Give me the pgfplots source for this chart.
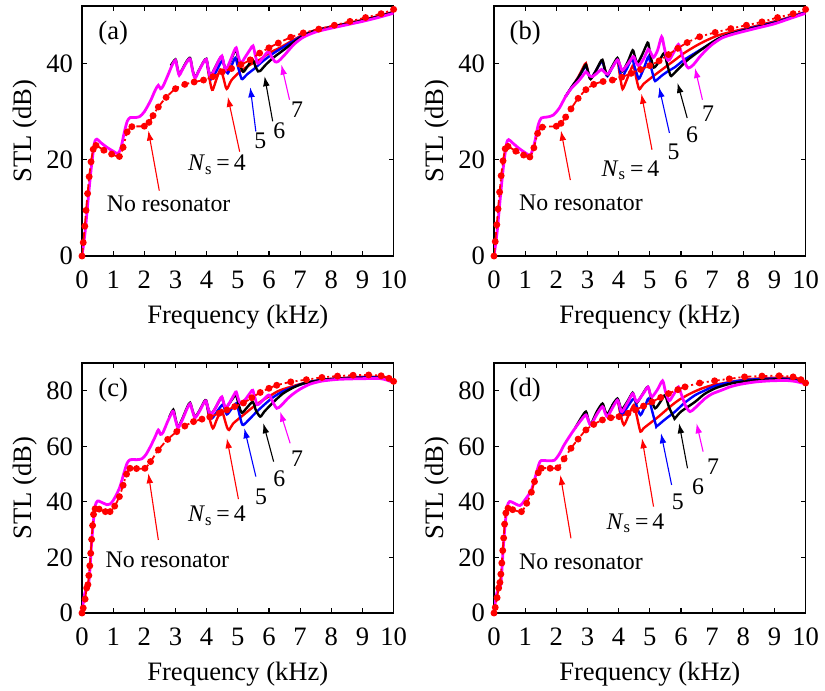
\documentclass[border=0pt]{standalone}
\usepackage{fontspec}
\setmainfont{Liberation Serif}
\newfontfamily\tnr{Liberation Serif}
\usepackage{pgfplots}
\pgfplotsset{compat=1.18}
\usetikzlibrary{arrows.meta}
\definecolor{mag}{RGB}{255,0,255}
\definecolor{rd}{RGB}{255,0,0}
\definecolor{bl}{RGB}{0,0,255}
\tikzset{
  ann/.style={font=\tnr\fontsize{11.9}{14}\selectfont},
  arr/.style={-{Latex[length=5pt,width=3.4pt]}, line width=0.55pt},
}
\pgfplotsset{
  panel/.style={
    scale only axis, width=155.8pt, height=125pt, anchor=south west,
    xmin=0, xmax=10, ymin=0,
    xtick={0,1,...,10},
    tick align=inside,
    major tick length=2.5pt,
    axis line style={line width=0.8pt, black},
    every tick/.style={black, line width=0.6pt},
    tick label style={font=\tnr\fontsize{13.3}{15}\selectfont},
    xticklabel style={yshift=-4pt},
    yticklabel style={xshift=-1pt},
    label style={font=\tnr\fontsize{13.3}{15}\selectfont},
    xlabel={Frequency (kHz)},
    ylabel={STL (dB)},
    xlabel style={at={(axis description cs:0.5,-0.244)}, anchor=center},
    ylabel style={at={(axis description cs:-0.183,0.5)}, anchor=center},
    /pgf/number format/assume math mode=true,
  },
  nr/.style={rd, line width=0.9pt, smooth, tension=0.4, dash pattern=on 4pt off 1.5pt on 1pt off 1.5pt, mark=*, mark size=1.25pt, mark options={solid}},
  n4/.style={rd, line width=1.2pt, no marks, smooth, tension=0.45},
  n5/.style={bl, line width=1.2pt, no marks, smooth, tension=0.45},
  n6/.style={black, line width=1.2pt, no marks, smooth, tension=0.45},
  n7/.style={mag, line width=1.4pt, no marks, smooth, tension=0.45},
}
\begin{document}
\begin{tikzpicture}
\useasboundingbox (0,0) rectangle (412.5pt,-345.5pt);
% ---------------- (a)
\begin{axis}[panel, at={(41pt,-128pt)}, ymax=52, ytick={0,20,40}]
\addplot[n4] coordinates {(3.9,40.3)(3.99,40.8)(4.06,38.0)(4.15,35.0)(4.2,34.6)(4.3,36.5)(4.44,38.8)(4.52,37.5)(4.62,35.0)(4.67,34.9)(4.8,36.6)(5.08,38.4)(5.4,39.8)(5.72,40.9)(6.0,42.2)(6.37,43.4)(6.8,45.0)(7.1,46.0)(7.5,47.0)(8,47.7)(8.5,48.4)(9,49.1)(9.5,49.9)(10,50.8)};
\addplot[n5] coordinates {(3.9,40.3)(3.99,40.8)(4.06,38.5)(4.15,36.8)(4.3,38.3)(4.45,40.2)(4.52,40.5)(4.6,38.8)(4.68,38.0)(4.8,39.6)(4.92,41.2)(5.0,39.5)(5.1,37.2)(5.15,36.8)(5.3,37.8)(5.5,38.8)(5.8,40.5)(6.15,42.2)(6.5,43.6)(6.8,44.8)(7.1,45.9)(7.5,46.9)(8,47.6)(8.5,48.3)(9,49.0)(9.5,49.8)(10,50.7)};
\addplot[n6] coordinates {(2.85,39.6)(3.0,40.9)(3.06,39.2)(3.12,37.8)(3.2,38.6)(3.35,40.4)(3.47,41.2)(3.55,38.7)(3.63,37.2)(3.75,38.6)(3.9,40.4)(3.99,41.0)(4.05,39.1)(4.12,37.5)(4.25,38.9)(4.4,40.8)(4.49,41.5)(4.55,40.0)(4.62,38.7)(4.75,40.3)(4.88,42.3)(4.95,42.8)(5.05,40.0)(5.15,38.5)(5.2,38.4)(5.35,39.8)(5.48,40.8)(5.56,39.5)(5.65,38.4)(5.72,38.5)(5.9,39.8)(6.15,41.3)(6.5,43.0)(6.8,44.5)(7.1,45.8)(7.5,46.9)(8,47.6)(8.5,48.3)(9,49.0)(9.5,49.8)(10,50.7)};
\addplot[n7] coordinates {(0,0)(0.1,5)(0.2,12)(0.3,18.5)(0.4,23.5)(0.48,24.3)(0.6,23.6)(0.8,22.6)(1.0,21.8)(1.15,21.3)(1.25,22.5)(1.35,25.5)(1.45,28.0)(1.55,28.8)(1.7,28.8)(1.85,29.0)(2.0,30.0)(2.2,32.3)(2.35,34.5)(2.45,35.5)(2.52,34.8)(2.6,35.3)(2.75,37.5)(2.9,39.8)(3.0,40.7)(3.06,39.0)(3.12,37.6)(3.2,38.5)(3.35,40.2)(3.47,41.0)(3.55,38.5)(3.63,37.0)(3.75,38.5)(3.9,40.3)(3.99,40.9)(4.05,39.0)(4.12,37.3)(4.25,38.8)(4.4,40.8)(4.49,41.6)(4.55,40.0)(4.62,38.7)(4.75,40.5)(4.88,42.6)(4.95,43.3)(5.02,41.5)(5.1,40.1)(5.25,41.5)(5.4,43.0)(5.49,43.7)(5.56,41.8)(5.64,40.1)(5.78,41.0)(5.92,42.2)(6.0,42.5)(6.08,41.5)(6.2,40.4)(6.3,40.5)(6.5,41.8)(6.8,44.0)(7.1,45.5)(7.5,46.6)(8,47.4)(8.5,48.1)(9,48.8)(9.5,49.6)(10,50.5)};
\addplot[nr] coordinates {(0,0)(0.04,2.8)(0.09,6.2)(0.13,9.5)(0.18,13)(0.23,16.5)(0.29,19.6)(0.36,22.2)(0.45,23.0)(0.7,22.0)(0.95,21.2)(1.2,20.7)(1.32,22.6)(1.45,25.8)(1.6,26.9)(2.0,27.0)(2.15,27.8)(2.28,29.2)(2.45,31.0)(2.7,33.0)(3.0,34.8)(3.3,35.7)(3.6,36.2)(3.9,36.6)(4.2,37.3)(4.5,38.3)(4.8,39.0)(5.1,39.8)(5.4,40.8)(5.7,42.2)(6.0,43.3)(6.3,44.3)(6.7,45.5)(7.1,46.4)(7.6,47.2)(8.1,48.0)(8.6,48.8)(9.1,49.6)(9.6,50.4)(10,51.3)};
\node[font=\tnr\fontsize{13.3}{15}\selectfont] at (rel axis cs:0.1,0.892) {(a)};
\node[ann] at (axis cs:2.78,10.8) {No resonator};
\draw[arr, rd] (axis cs:2.48,13.6) -- (axis cs:2.13,26.1);
\node[ann] at (axis cs:4.33,19.0) {\textit{N}\textsubscript{s}\,=\,4};
\draw[arr, rd] (axis cs:5.06,21.7) -- (axis cs:4.68,33.1);
\node[ann] at (axis cs:5.72,24.0) {5};
\draw[arr, bl] (axis cs:5.58,25.9) -- (axis cs:5.40,35.1);
\node[ann] at (axis cs:6.33,26.1) {6};
\draw[arr, black] (axis cs:6.12,28.0) -- (axis cs:5.86,37.4);
\node[ann] at (axis cs:6.9,30.4) {7};
\draw[arr, mag] (axis cs:6.66,32.5) -- (axis cs:6.4,39.8);
\end{axis}
% ---------------- (b)
\begin{axis}[panel, at={(247pt,-128pt)}, ymax=52, ytick={0,20,40}]
\addplot[n4] coordinates {(2.3,33.2)(2.5,35.2)(2.7,37.2)(2.87,39.3)(2.95,40.1)(3.03,38.0)(3.1,36.8)(3.25,38.3)(3.4,40.0)(3.48,40.6)(3.56,38.8)(3.64,37.6)(3.8,39.3)(3.96,40.6)(4.04,37.5)(4.11,35.0)(4.15,34.9)(4.3,37.3)(4.45,39.6)(4.5,39.0)(4.6,36.0)(4.67,34.7)(4.8,35.8)(5.17,37.7)(5.5,39.3)(5.81,40.8)(6.1,42.2)(6.45,43.6)(6.8,44.8)(7.2,45.9)(7.6,46.6)(8,47.2)(8.5,48.0)(9,48.8)(9.5,49.7)(10,50.8)};
\addplot[n5] coordinates {(2.3,33.2)(2.5,35.2)(2.7,37.0)(2.87,38.8)(2.95,39.5)(3.03,38.0)(3.1,36.9)(3.25,38.3)(3.4,40.0)(3.48,40.5)(3.56,38.6)(3.64,37.4)(3.8,39.3)(3.96,40.9)(4.04,38.5)(4.11,37.2)(4.25,38.8)(4.43,41.0)(4.5,39.6)(4.62,37.2)(4.67,37.0)(4.82,39.2)(4.96,41.5)(5.05,39.0)(5.15,36.6)(5.2,36.5)(5.4,37.6)(5.6,38.5)(5.81,39.3)(6.1,40.8)(6.45,42.2)(6.8,43.6)(7.2,45.2)(7.5,46.0)(8,47.0)(8.5,47.8)(9,48.6)(9.5,49.6)(10,50.7)};
\addplot[n6] coordinates {(2.3,33.2)(2.5,35.2)(2.7,37.0)(2.87,39.0)(2.95,39.8)(3.03,38.0)(3.1,36.8)(3.25,38.3)(3.4,40.2)(3.48,40.8)(3.56,38.8)(3.64,37.6)(3.8,39.5)(3.96,41.2)(4.04,39.6)(4.12,38.4)(4.3,40.5)(4.45,42.8)(4.52,41.5)(4.6,40.1)(4.75,41.8)(4.9,44.0)(4.95,44.3)(5.03,41.5)(5.13,39.2)(5.3,40.5)(5.46,42.2)(5.56,39.8)(5.66,37.6)(5.72,37.6)(5.9,38.8)(6.2,40.7)(6.5,42.2)(6.87,43.9)(7.2,45.2)(7.5,46.0)(8,46.9)(8.5,47.7)(9,48.5)(9.5,49.5)(10,50.6)};
\addplot[n7] coordinates {(0,0)(0.1,5)(0.2,12)(0.3,18.5)(0.4,23.3)(0.47,24.2)(0.6,23.5)(0.8,22.4)(1.0,21.5)(1.17,21.0)(1.3,23.5)(1.42,27.3)(1.52,28.7)(1.7,28.9)(1.9,29.3)(2.1,30.8)(2.3,33.2)(2.5,35.0)(2.7,36.3)(2.85,37.5)(2.95,38.3)(3.05,37.6)(3.15,37.3)(3.3,38.0)(3.45,38.8)(3.55,38.2)(3.65,37.8)(3.8,39.2)(3.96,40.8)(4.05,39.6)(4.12,38.6)(4.3,40.0)(4.47,41.5)(4.55,40.4)(4.64,39.6)(4.8,41.0)(4.95,43.0)(5.03,42.3)(5.12,41.3)(5.25,42.8)(5.38,45.6)(5.46,43.5)(5.55,41.0)(5.63,40.8)(5.78,42.5)(5.92,44.0)(6.0,42.5)(6.12,40.3)(6.24,39.1)(6.4,39.8)(6.6,41.4)(6.8,42.8)(7.0,44.0)(7.3,45.3)(7.6,46.0)(8,46.7)(8.5,47.5)(9,48.3)(9.5,49.4)(10,50.5)};
\addplot[nr] coordinates {(0,0)(0.04,3)(0.09,6.5)(0.13,9.8)(0.18,13.3)(0.23,16.7)(0.29,19.8)(0.36,22.3)(0.45,22.8)(0.7,21.8)(0.95,21.0)(1.15,20.6)(1.28,22.5)(1.4,25.5)(1.55,26.8)(2.0,27.0)(2.15,27.6)(2.3,28.9)(2.47,30.6)(2.7,32.8)(2.95,34.6)(3.2,35.7)(3.5,36.3)(3.8,36.6)(4.1,37.2)(4.4,38.0)(4.7,38.8)(5.0,39.6)(5.3,40.6)(5.6,41.9)(5.9,43.2)(6.2,44.4)(6.6,45.6)(7.1,46.5)(7.6,47.3)(8.1,48.0)(8.6,48.7)(9.1,49.6)(9.6,50.4)(10,51.3)};
\node[font=\tnr\fontsize{13.3}{15}\selectfont] at (rel axis cs:0.1,0.892) {(b)};
\node[ann] at (axis cs:2.79,11.0) {No resonator};
\draw[arr, rd] (axis cs:2.45,15.8) -- (axis cs:2.15,26.1);
\node[ann] at (axis cs:4.38,17.8) {\textit{N}\textsubscript{s}\,=\,4};
\draw[arr, rd] (axis cs:5.07,22.1) -- (axis cs:4.73,33.75);
\node[ann] at (axis cs:5.76,21.7) {5};
\draw[arr, bl] (axis cs:5.63,25.6) -- (axis cs:5.30,35.1);
\node[ann] at (axis cs:6.36,25.2) {6};
\draw[arr, black] (axis cs:6.2,28.7) -- (axis cs:5.89,36.0);
\node[ann] at (axis cs:6.87,29.7) {7};
\draw[arr, mag] (axis cs:6.69,32.5) -- (axis cs:6.45,39.1);
\end{axis}
% ---------------- (c)
\begin{axis}[panel, at={(41pt,-306.5pt)}, ymax=90, ytick={0,20,40,60,80}]
\addplot[n4] coordinates {(3.92,75.8)(3.98,76.2)(4.08,70.5)(4.2,66.5)(4.32,69.5)(4.47,73.1)(4.52,72.0)(4.65,67.0)(4.72,65.9)(4.85,68.2)(5.18,71.3)(5.45,73.8)(5.72,76.0)(6.05,78.3)(6.36,80.2)(7.0,82.4)(7.5,83.6)(8,84.3)(8.5,84.7)(9,85.0)(9.5,85.0)(9.8,84.4)(10,83.4)};
\addplot[n5] coordinates {(3.92,75.8)(3.98,76.3)(4.06,72.5)(4.17,70.1)(4.35,72.8)(4.5,74.9)(4.56,74.0)(4.65,71.5)(4.8,73.5)(4.95,75.5)(5.02,73.0)(5.12,68.5)(5.18,67.7)(5.35,69.5)(5.61,72.5)(5.9,75.5)(6.15,77.8)(6.45,79.8)(6.79,81.4)(7.1,82.6)(7.5,83.6)(8,84.2)(8.5,84.6)(9,84.8)(9.5,84.8)(9.8,84.2)(10,83.3)};
\addplot[n6] coordinates {(2.8,70.5)(2.93,73.2)(3.0,70.0)(3.08,67.0)(3.2,69.4)(3.38,74.2)(3.47,75.7)(3.55,72.8)(3.63,70.6)(3.78,73.1)(3.92,76.1)(3.98,76.6)(4.05,73.7)(4.13,71.6)(4.27,73.6)(4.42,76.7)(4.49,77.6)(4.55,75.4)(4.61,73.8)(4.75,75.8)(4.9,78.2)(4.95,78.4)(5.03,75.0)(5.13,72.1)(5.3,74.0)(5.48,76.0)(5.58,73.0)(5.72,70.7)(5.85,72.5)(6.15,76.0)(6.45,79.0)(6.79,81.2)(7.1,82.6)(7.43,83.4)(7.8,84.0)(8.2,84.4)(8.7,84.6)(9.2,84.7)(9.6,84.6)(9.8,84.0)(10,83.1)};
\addplot[n7] coordinates {(0,0)(0.05,4.5)(0.1,7.5)(0.2,9.5)(0.25,15)(0.3,24)(0.35,31)(0.42,38.5)(0.5,40.3)(0.6,40.0)(0.8,39.0)(0.9,39.2)(1.0,40.5)(1.1,42.5)(1.22,45.5)(1.35,50.5)(1.45,54.0)(1.55,55.2)(1.75,55.2)(1.92,55.5)(2.05,57.0)(2.2,60.0)(2.35,63.5)(2.45,65.9)(2.52,64.3)(2.6,65.0)(2.75,69.0)(2.88,72.0)(2.93,72.6)(3.0,69.5)(3.08,66.7)(3.2,69.0)(3.38,73.8)(3.47,75.3)(3.55,72.5)(3.63,70.3)(3.78,72.8)(3.92,75.8)(3.98,76.4)(4.05,73.5)(4.13,71.4)(4.27,73.5)(4.42,76.8)(4.49,77.8)(4.55,75.5)(4.61,73.8)(4.75,76.0)(4.9,79.0)(4.95,79.6)(5.02,77.0)(5.1,75.4)(5.25,77.0)(5.42,79.6)(5.48,80.2)(5.55,77.5)(5.63,75.0)(5.78,76.3)(5.95,78.2)(6.02,78.4)(6.1,76.5)(6.25,73.7)(6.4,74.8)(6.6,77.2)(6.79,79.0)(7.0,80.6)(7.32,82.4)(7.7,83.5)(8.2,84.1)(8.7,84.3)(9.2,84.4)(9.57,84.4)(9.8,83.8)(10,82.9)};
\addplot[nr] coordinates {(0,0)(0.04,1.8)(0.1,5)(0.15,9)(0.19,10.2)(0.22,13.5)(0.25,17)(0.28,21.5)(0.31,26.5)(0.34,31.5)(0.37,35.5)(0.42,37.5)(0.55,37.4)(0.75,36.5)(0.9,36.5)(1.05,38.5)(1.2,41.9)(1.32,46)(1.43,50)(1.54,52.1)(1.75,52.0)(2.02,52.1)(2.2,54.5)(2.45,58.7)(2.75,62.5)(3.04,65.3)(3.3,67.3)(3.58,68.9)(3.85,69.8)(4.1,70.6)(4.4,71.9)(4.65,73.1)(4.9,74.3)(5.18,75.6)(5.45,77.5)(5.72,79.4)(6.0,80.9)(6.25,82.0)(6.7,83.2)(7.2,84.0)(7.7,84.8)(8.2,85.3)(8.7,85.6)(9.2,85.7)(9.6,85.4)(9.85,84.5)(10,83.4)};
\node[font=\tnr\fontsize{13.3}{15}\selectfont] at (rel axis cs:0.1,0.892) {(c)};
\node[ann] at (axis cs:2.74,19.2) {No resonator};
\draw[arr, rd] (axis cs:2.45,26.3) -- (axis cs:2.13,50.3);
\node[ann] at (axis cs:4.33,35.0) {\textit{N}\textsubscript{s}\,=\,4};
\draw[arr, rd] (axis cs:5.02,41.0) -- (axis cs:4.65,62.9);
\node[ann] at (axis cs:5.75,41.9) {5};
\draw[arr, bl] (axis cs:5.58,49.1) -- (axis cs:5.21,66.5);
\node[ann] at (axis cs:6.33,48.5) {6};
\draw[arr, black] (axis cs:6.15,54.5) -- (axis cs:5.82,68.3);
\node[ann] at (axis cs:6.9,55.7) {7};
\draw[arr, mag] (axis cs:6.68,61.1) -- (axis cs:6.36,72.5);
\end{axis}
% ---------------- (d)
\begin{axis}[panel, at={(247pt,-306.5pt)}, ymax=90, ytick={0,20,40,60,80}]
\addplot[n4] coordinates {(3.8,74.8)(3.96,76.5)(4.06,71.5)(4.17,67.7)(4.33,71.5)(4.49,74.9)(4.58,71.0)(4.7,65.3)(4.8,66.5)(5.28,70.7)(5.6,73.8)(5.92,76.6)(6.3,79.0)(6.66,80.8)(7.0,82.0)(7.3,82.6)(7.8,83.6)(8.3,84.3)(8.8,84.6)(9.3,84.7)(9.7,84.2)(10,83.2)};
\addplot[n5] coordinates {(3.8,74.8)(3.96,77.0)(4.04,73.5)(4.11,71.3)(4.3,74.5)(4.49,77.2)(4.58,74.5)(4.7,71.3)(4.85,74.5)(4.96,77.2)(5.08,72.5)(5.2,67.5)(5.23,67.3)(5.5,69.8)(5.81,72.5)(6.1,75.5)(6.45,78.4)(6.8,80.3)(7.08,81.7)(7.5,82.9)(8,83.8)(8.5,84.2)(9,84.4)(9.5,84.2)(10,83.0)};
\addplot[n6] coordinates {(2.6,66.5)(2.8,70.3)(2.95,72.5)(3.03,69.5)(3.11,68.0)(3.3,72.5)(3.48,75.4)(3.56,73.0)(3.64,71.5)(3.8,74.8)(3.96,77.2)(4.04,74.8)(4.11,73.3)(4.3,76.5)(4.45,79.3)(4.52,77.0)(4.59,75.7)(4.78,79.0)(4.94,81.4)(5.05,77.0)(5.17,73.7)(5.35,76.2)(5.49,78.4)(5.62,74.0)(5.78,70.3)(5.81,70.1)(6.0,72.5)(6.45,76.0)(6.75,78.8)(7.08,80.8)(7.4,82.0)(7.72,82.9)(8.2,83.6)(8.7,84.0)(9.2,84.1)(9.6,83.8)(10,82.8)};
\addplot[n7] coordinates {(0,0)(0.05,4.5)(0.1,7.5)(0.2,9.5)(0.25,15)(0.3,24)(0.35,31)(0.42,38.3)(0.5,40.1)(0.6,39.8)(0.83,38.7)(1.0,40.8)(1.2,44.3)(1.35,50)(1.45,53.8)(1.52,54.9)(1.75,54.8)(1.94,55.0)(2.1,57.3)(2.25,60.5)(2.42,63.5)(2.6,66.5)(2.8,69.5)(2.95,71.3)(3.03,69.2)(3.11,67.7)(3.3,71.5)(3.48,74.3)(3.56,72.2)(3.64,70.7)(3.8,73.8)(3.96,76.6)(4.04,74.2)(4.11,72.5)(4.3,76.0)(4.45,79.0)(4.52,77.3)(4.59,76.0)(4.78,78.8)(4.94,81.4)(5.0,79.3)(5.07,77.8)(5.25,80.5)(5.41,83.6)(5.5,79.8)(5.6,76.8)(5.65,76.6)(5.8,79.3)(5.92,81.4)(6.02,78.5)(6.15,74.5)(6.29,72.5)(6.45,73.8)(6.77,77.2)(7.0,78.9)(7.3,80.2)(7.6,81.5)(7.93,82.4)(8.4,83.2)(8.89,83.6)(9.4,83.7)(9.7,83.3)(10,82.5)};
\addplot[nr] coordinates {(0,0)(0.04,2)(0.1,5.5)(0.15,9)(0.19,11)(0.22,14)(0.25,18)(0.28,22.5)(0.31,27)(0.34,32)(0.38,36)(0.45,37.7)(0.6,37.2)(0.88,36.5)(1.05,39.5)(1.2,43.5)(1.3,47.3)(1.42,50.5)(1.52,52.1)(1.8,52.1)(2.05,52.3)(2.25,55.5)(2.47,59.3)(2.7,62.6)(2.95,65.9)(3.2,67.9)(3.48,69.5)(3.75,70.3)(4.01,70.7)(4.3,71.9)(4.54,73.1)(4.8,74.5)(5.07,76.0)(5.35,77.6)(5.6,79.0)(5.9,80.4)(6.13,81.4)(6.6,82.8)(7.08,83.6)(7.55,84.3)(8.04,85.0)(8.6,85.3)(9.15,85.4)(9.6,85.0)(9.85,84.0)(10,82.8)};
\node[font=\tnr\fontsize{13.3}{15}\selectfont] at (rel axis cs:0.1,0.892) {(d)};
\node[ann] at (axis cs:2.79,18.6) {No resonator};
\draw[arr, rd] (axis cs:2.47,26.9) -- (axis cs:2.13,49.7);
\node[ann] at (axis cs:4.54,32.3) {\textit{N}\textsubscript{s}\,=\,4};
\draw[arr, rd] (axis cs:5.12,38.3) -- (axis cs:4.75,62.9);
\node[ann] at (axis cs:5.9,40.1) {5};
\draw[arr, bl] (axis cs:5.7,46.1) -- (axis cs:5.36,64.7);
\node[ann] at (axis cs:6.55,45.5) {6};
\draw[arr, black] (axis cs:6.21,52.1) -- (axis cs:5.94,68.3);
\node[ann] at (axis cs:7.03,52.7) {7};
\draw[arr, mag] (axis cs:6.71,58.1) -- (axis cs:6.5,68.3);
\end{axis}
\end{tikzpicture}
\end{document}
